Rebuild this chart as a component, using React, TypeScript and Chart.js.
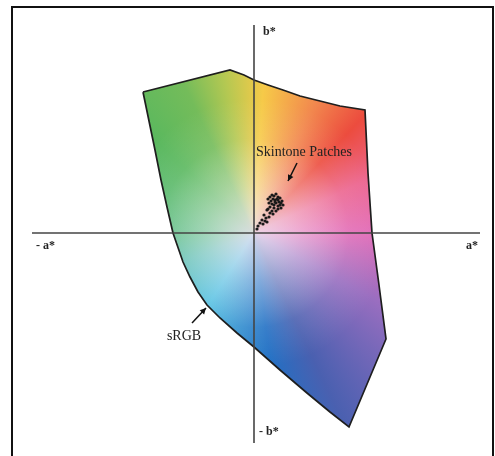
import React, { useEffect, useRef } from "react";
import { Chart, registerables } from "chart.js";

Chart.register(...registerables);

// sRGB gamut boundary in the a*b* plane (a*, b*)
const gamutA = [-55.5, -12, -5, 0, 7, 14.5, 23, 33, 43, 55.5, 57, 59, 62.5, 66, 47.5, 38, 26.5, 13, 0, -8.5, -17, -23.5, -28, -32, -35.5, -40.5, -43.5, -46.5, -49.5, -52.5, -55.5];
const gamutB = [70.5, 81.5, 79, 76.5, 74, 71.5, 68.5, 66, 63.5, 61.5, 30, 0, -26, -53, -97, -89.5, -80, -68.5, -57, -50, -42.5, -36, -29.5, -22, -14.5, 0, 13, 26.5, 41.5, 56, 70.5];

// Skintone patches (a*, b*)
const skinA = [7, 8, 9, 10, 11, 12, 13, 14, 8.5, 9.5, 10.5, 11.5, 12.5, 13.5, 7.5, 9, 10, 11, 12, 13, 14.5, 8, 10, 12, 13.5, 9, 11, 6.5, 8, 9.5, 5, 6, 7.5, 4, 5.5, 3, 4.5, 2, 1.5, 6.5, 10.5, 12, 7];
const skinB = [17, 18, 19, 18.5, 19.5, 18, 17.5, 16, 16, 17, 16.5, 17, 15.5, 15, 15, 14.5, 14, 15, 13.5, 14, 14, 13, 12.5, 12, 12.5, 11, 11, 11.5, 10, 9.5, 9, 7.5, 8, 6.5, 6, 5, 4.5, 3.5, 2, 5.5, 15.5, 16.5, 12];

const xMin = -111, xMax = 113, yMin = -105, yMax = 104;

const hueStops: [number, string][] = [
  [0, "#e26cb8"],
  [0.08, "#9a6ec0"],
  [0.18, "#4a60b0"],
  [0.23, "#2270c4"],
  [0.34, "#48bce0"],
  [0.44, "#58bcb0"],
  [0.5, "#5cbc84"],
  [0.62, "#5ab85e"],
  [0.68, "#74bc5a"],
  [0.72, "#b4c852"],
  [0.76, "#f6ca48"],
  [0.82, "#f2884e"],
  [0.87, "#ec4c3e"],
  [0.93, "#ec6690"],
  [1, "#e26cb8"],
];

const labelFont = "bold 12px 'Liberation Serif', 'DejaVu Serif', serif";
const annFont = "14px 'Liberation Serif', 'DejaVu Serif', serif";

function arrow(ctx: CanvasRenderingContext2D, x1: number, y1: number, x2: number, y2: number) {
  ctx.save();
  ctx.strokeStyle = "#111";
  ctx.fillStyle = "#111";
  ctx.lineWidth = 1.5;
  ctx.beginPath();
  ctx.moveTo(x1, y1);
  ctx.lineTo(x2, y2);
  ctx.stroke();
  const ang = Math.atan2(y2 - y1, x2 - x1);
  const L = 6, W = 3;
  ctx.beginPath();
  ctx.moveTo(x2, y2);
  ctx.lineTo(x2 - L * Math.cos(ang) + W * Math.sin(ang), y2 - L * Math.sin(ang) - W * Math.cos(ang));
  ctx.lineTo(x2 - L * Math.cos(ang) - W * Math.sin(ang), y2 - L * Math.sin(ang) + W * Math.cos(ang));
  ctx.closePath();
  ctx.fill();
  ctx.restore();
}

const annotations = {
  id: "annotations",
  afterDraw(chart: any) {
    const { ctx, scales } = chart;
    const X = (v: number) => scales.x.getPixelForValue(v);
    const Y = (v: number) => scales.y.getPixelForValue(v);
    ctx.save();
    ctx.fillStyle = "#222";
    ctx.textBaseline = "middle";
    ctx.font = labelFont;
    ctx.textAlign = "left";
    ctx.fillText("b*", X(4.5), Y(100.5));
    ctx.fillText("- b*", X(2.5), Y(-99.5));
    ctx.fillText("- a*", X(-109), Y(-6.5));
    ctx.textAlign = "right";
    ctx.fillText("a*", X(112), Y(-6.5));
    ctx.font = annFont;
    ctx.textAlign = "center";
    ctx.fillText("Skintone Patches", X(25), Y(40.5));
    ctx.fillText("sRGB", X(-35), Y(-51.5));
    ctx.restore();
    arrow(ctx, X(21.5), Y(35), X(17), Y(26));
    arrow(ctx, X(-31), Y(-45), X(-24), Y(-37.5));
  },
};

export default function App() {
  const ref = useRef<HTMLCanvasElement>(null);
  useEffect(() => {
    if (!ref.current) return;
    const gamut = gamutA.map((a, i) => ({ x: a, y: gamutB[i] }));
    const skin = skinA.map((a, i) => ({ x: a, y: skinB[i] }));
    const conic = (c: any) => {
      const chart = c.chart;
      if (!chart.chartArea) return "transparent";
      const cx = chart.scales.x.getPixelForValue(0);
      const cy = chart.scales.y.getPixelForValue(0);
      const g = chart.ctx.createConicGradient(0, cx, cy);
      hueStops.forEach(([p, col]) => g.addColorStop(p, col));
      return g;
    };
    const radial = (c: any) => {
      const chart = c.chart;
      if (!chart.chartArea) return "transparent";
      const cx = chart.scales.x.getPixelForValue(0);
      const cy = chart.scales.y.getPixelForValue(0);
      const g = chart.ctx.createRadialGradient(cx, cy, 0, cx, cy, 135);
      g.addColorStop(0, "rgba(236,226,240,0.88)");
      g.addColorStop(0.35, "rgba(250,245,250,0.45)");
      g.addColorStop(0.7, "rgba(255,255,255,0.1)");
      g.addColorStop(1, "rgba(255,255,255,0)");
      return g;
    };
    const chart = new Chart(ref.current, {
      type: "scatter",
      data: {
        datasets: [
          {
            label: "skin",
            data: skin,
            pointRadius: 1.6,
            pointBackgroundColor: "#1a1a1a",
            pointBorderWidth: 0,
            order: 0,
          } as any,
          {
            label: "a-axis",
            type: "line",
            data: [{ x: xMin, y: 0 }, { x: xMax, y: 0 }],
            borderColor: "#444",
            borderWidth: 1.6,
            pointRadius: 0,
            fill: false,
            order: 1,
          } as any,
          {
            label: "b-axis",
            type: "line",
            data: [{ x: 0, y: yMin }, { x: 0, y: yMax }],
            borderColor: "#444",
            borderWidth: 1.6,
            pointRadius: 0,
            fill: false,
            order: 1,
          } as any,
          {
            label: "white",
            type: "line",
            data: gamut,
            borderColor: "#1e1e1e",
            borderWidth: 1.7,
            backgroundColor: radial,
            fill: "shape",
            pointRadius: 0,
            tension: 0,
            order: 2,
          } as any,
          {
            label: "sRGB",
            type: "line",
            data: gamut,
            borderColor: "rgba(0,0,0,0)",
            borderWidth: 0,
            backgroundColor: conic,
            fill: "shape",
            pointRadius: 0,
            tension: 0,
            order: 3,
          } as any,
        ],
      },
      options: {
        animation: false,
        responsive: false,
        layout: { padding: { left: 32, right: 15, top: 25, bottom: 13 } },
        scales: {
          x: { type: "linear", min: xMin, max: xMax, display: false },
          y: { type: "linear", min: yMin, max: yMax, display: false },
        },
        plugins: { legend: { display: false }, tooltip: { enabled: false } },
      },
      plugins: [annotations],
    });
    return () => chart.destroy();
  }, []);
  return (
    <div style={{ position: "fixed", left: 0, top: 0, width: 495, height: 456, background: "#fff" }}>
      <canvas ref={ref} width={495} height={456} style={{ position: "absolute", left: 0, top: 0 }} />
      <div
        style={{
          position: "absolute",
          left: 11,
          top: 6,
          width: 483,
          height: 470,
          border: "2px solid #111",
          boxSizing: "border-box",
          pointerEvents: "none",
        }}
      />
    </div>
  );
}
